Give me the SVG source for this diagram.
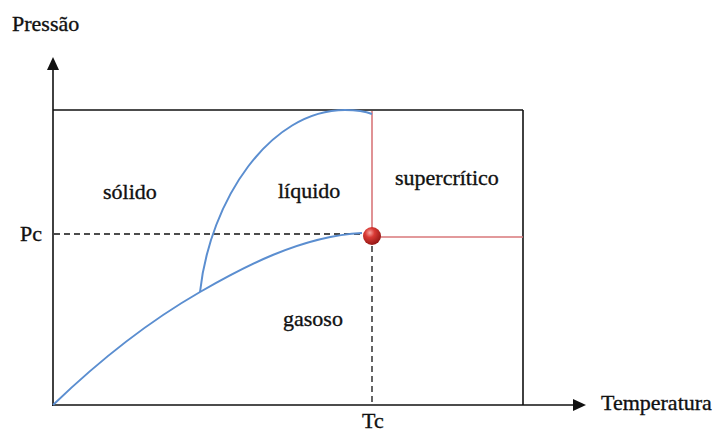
<svg xmlns="http://www.w3.org/2000/svg" width="723" height="432" viewBox="0 0 723 432">
<defs>
<style>
text{font-family:'Liberation Serif','DejaVu Serif',serif;font-size:22px;fill:#111;stroke:#111;stroke-width:0.35}
.ax{stroke:#111;stroke-width:1.6;fill:none}
.dash{stroke:#111;stroke-width:1.3;stroke-dasharray:6 4;fill:none}
.blue{stroke:#5b8ed0;stroke-width:2;fill:none}
.red{stroke:#d9777a;stroke-width:1.6;fill:none}
</style>
<radialGradient id="ball" cx="0.38" cy="0.32" r="0.75">
<stop offset="0" stop-color="#f7a4a0"/>
<stop offset="0.35" stop-color="#d93a35"/>
<stop offset="1" stop-color="#8a1210"/>
</radialGradient>
</defs>
<rect width="723" height="432" fill="#fff"/>
<g id="connectors">
<line class="ax" x1="53" y1="68" x2="53" y2="406"/>
<polygon points="53,57 47,70 59,70" fill="#111"/>
<line class="ax" x1="52" y1="405" x2="574" y2="405"/>
<polygon points="586,405 573,399 573,411" fill="#111"/>
<line class="ax" x1="53" y1="110" x2="523" y2="110"/>
<line class="ax" x1="523" y1="110" x2="523" y2="405"/>
<line class="dash" x1="54" y1="234" x2="362" y2="234"/>
<line class="dash" x1="372" y1="246" x2="372" y2="405"/>
<line class="red" x1="372" y1="111" x2="372" y2="236"/>
<line class="red" x1="372" y1="237" x2="523" y2="237"/>
<path class="blue" d="M53,405 C110,350 160,315 200,292 S300,236 362,233"/>
<path class="blue" d="M200,292 C210,200 270,110 345,110 Q362,110 372,114"/>
</g>
<g id="critical-point">
<circle cx="372" cy="236" r="9" fill="url(#ball)"/>
</g>
<g id="labels">
<text x="12" y="31">Pressão</text>
<text x="20" y="241">Pc</text>
<text x="362" y="428">Tc</text>
<text x="601" y="410">Temperatura</text>
<text x="103" y="199">sólido</text>
<text x="278" y="198">líquido</text>
<text x="395" y="185">supercrítico</text>
<text x="283" y="326">gasoso</text>
</g>
</svg>
